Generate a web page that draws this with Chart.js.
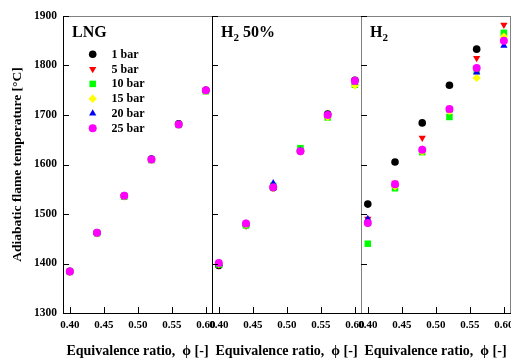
<!DOCTYPE html>
<html>
<head>
<meta charset="utf-8">
<script src="https://cdn.jsdelivr.net/npm/chart.js@4.4.1/dist/chart.umd.min.js"></script>
<style>
  html, body { margin: 0; padding: 0; background: #fff; overflow: hidden; width: 511px; height: 363px; }
  #wrap { position: relative; width: 511px; height: 363px; overflow: hidden; }
  canvas { position: absolute; left: 0; top: 0; }
</style>
</head>
<body>
<div id="wrap">
  <canvas id="panelLNG" width="530" height="363"></canvas>
  <canvas id="panelH2mix" width="530" height="363"></canvas>
  <canvas id="panelH2" width="530" height="363"></canvas>
</div>
<script>
// Equivalence ratio values and axis ticks
const phi = [0.40, 0.44, 0.48, 0.52, 0.56, 0.60];
const xTicks = [0.40, 0.45, 0.50, 0.55, 0.60];
const yTicks = [1300, 1400, 1500, 1600, 1700, 1800, 1900];
const pressures = ['1 bar', '5 bar', '10 bar', '15 bar', '20 bar', '25 bar'];

// Adiabatic flame temperature [°C] — LNG
const lng1bar  = [1384, 1462, 1537, 1611, 1682, 1750];
const lng5bar  = [1383, 1461, 1536, 1610, 1681, 1749];
const lng10bar = [1383, 1461, 1535, 1609, 1680, 1748];
const lng15bar = [1384, 1462, 1536, 1610, 1681, 1749];
const lng20bar = [1384, 1462, 1537, 1611, 1682, 1750];
const lng25bar = [1384, 1462, 1537, 1610, 1681, 1750];

// H2 50 %
const mix1bar  = [1396, 1479, 1553, 1628, 1702, 1770];
const mix5bar  = [1397, 1476, 1553, 1628, 1699, 1764];
const mix10bar = [1398, 1477, 1557, 1633, 1695, 1761];
const mix15bar = [1400, 1479, 1553, 1626, 1696, 1760];
const mix20bar = [1400, 1481, 1562, 1628, 1699, 1766];
const mix25bar = [1401, 1481, 1554, 1627, 1700, 1769];

// H2
const h21bar  = [1520, 1605, 1684, 1760, 1833, null];
const h25bar  = [1490, 1563, 1654, 1712, 1815, 1882];
const h210bar = [1440, 1552, 1625, 1696, 1789, 1866];
const h215bar = [1481, 1556, 1626, 1708, 1775, 1858];
const h220bar = [1490, 1560, 1630, 1710, 1786, 1840];
const h225bar = [1482, 1560, 1630, 1712, 1795, 1850];

const markers = [
  { color: '#000000', style: 'circle',   rotation: 0,   radius: 3.8 },
  { color: '#ff0000', style: 'triangle', rotation: 180, radius: 4.2 },
  { color: '#00ff00', style: 'rect',     rotation: 0,   radius: 4.6 },
  { color: '#ffff00', style: 'rectRot',  rotation: 0,   radius: 4.2 },
  { color: '#0000ff', style: 'triangle', rotation: 0,   radius: 4.2 },
  { color: '#ff00ff', style: 'circle',   rotation: 0,   radius: 4.0 }
];

const SERIF = '"Liberation Serif", "Times New Roman", serif';

function buildDatasets(seriesList) {
  return seriesList.map((vals, i) => ({
    label: pressures[i],
    data: phi.map((p, k) => ({ x: p, y: vals[k] })),
    backgroundColor: markers[i].color,
    borderColor: markers[i].color,
    borderWidth: 0,
    pointStyle: markers[i].style,
    pointRotation: markers[i].rotation,
    pointRadius: markers[i].radius,
    pointBorderWidth: 0,
    order: seriesList.length - i
  }));
}

// Box edges plus inward tick marks on the left and bottom of each panel
const frameAndTicks = {
  id: 'frameAndTicks',
  afterDraw(chart, args, opts) {
    const { ctx, chartArea: a, scales: { x, y } } = chart;
    ctx.save();
    ctx.lineWidth = 1;
    ctx.strokeStyle = '#808080';
    ctx.beginPath();
    ctx.moveTo(a.left, a.top + 0.5); ctx.lineTo(a.right + 1, a.top + 0.5);
    ctx.stroke();
    ctx.strokeStyle = opts.rightColor;
    ctx.beginPath();
    ctx.moveTo(a.right + 0.5, a.top); ctx.lineTo(a.right + 0.5, a.bottom);
    ctx.stroke();
    ctx.strokeStyle = opts.leftColor;
    ctx.beginPath();
    ctx.moveTo(a.left + 0.5, a.top); ctx.lineTo(a.left + 0.5, a.bottom + 1);
    ctx.stroke();
    ctx.strokeStyle = '#000000';
    ctx.beginPath();
    ctx.moveTo(a.left, a.bottom + 0.5); ctx.lineTo(a.right + 1, a.bottom + 0.5);
    ctx.stroke();
    // inward ticks
    ctx.strokeStyle = '#000000';
    ctx.beginPath();
    y.ticks.forEach(t => {
      const py = Math.round(y.getPixelForValue(t.value)) + 0.5;
      ctx.moveTo(a.left, py); ctx.lineTo(a.left + 6, py);
    });
    x.ticks.forEach(t => {
      const px = Math.round(x.getPixelForValue(t.value)) + 0.5;
      ctx.moveTo(px, a.bottom); ctx.lineTo(px, a.bottom - 6);
    });
    ctx.stroke();
    ctx.restore();
  }
};

// Panel heading (with optional subscript) and optional marker key
const panelText = {
  id: 'panelText',
  afterDraw(chart, args, opts) {
    const { ctx, chartArea: a } = chart;
    ctx.save();
    ctx.fillStyle = '#000';
    ctx.textBaseline = 'alphabetic';
    let cx = a.left + 9;
    const by = a.top + 21;
    opts.title.forEach(part => {
      if (part.sub) {
        ctx.font = 'bold 11px ' + SERIF;
        ctx.fillText(part.text, cx, by + 4);
      } else {
        ctx.font = 'bold 16px ' + SERIF;
        ctx.fillText(part.text, cx, by);
      }
      cx += ctx.measureText(part.text).width;
    });
    if (opts.legend) {
      chart.data.datasets.forEach((ds, i) => {
        const my = a.top + 38.3 + i * 14.8;
        const mx = a.left + 29.7;
        ctx.fillStyle = ds.backgroundColor;
        Chart.helpers.drawPoint(ctx, {
          pointStyle: ds.pointStyle, rotation: ds.pointRotation,
          radius: ds.pointRadius, borderWidth: 0
        }, mx, my);
        ctx.fillStyle = '#000';
        ctx.font = 'bold 12px ' + SERIF;
        ctx.textBaseline = 'middle';
        ctx.fillText(ds.label, a.left + 48.5, my + 0.5);
      });
    }
    ctx.restore();
  }
};

function makePanel(id, seriesList, cfg) {
  return new Chart(document.getElementById(id), {
    type: 'scatter',
    data: { datasets: buildDatasets(seriesList) },
    options: {
      responsive: false,
      animation: false,
      devicePixelRatio: 1,
      layout: { padding: { left: cfg.padLeft, right: cfg.padRight, top: 16, bottom: 0 } },
      plugins: {
        legend: { display: false },
        tooltip: { enabled: false },
        frameAndTicks: { leftColor: cfg.leftColor, rightColor: cfg.rightColor },
        panelText: { title: cfg.title, legend: cfg.legend }
      },
      scales: {
        x: {
          type: 'linear',
          min: 0.39, max: 0.609,
          afterBuildTicks: s => { s.ticks = xTicks.map(v => ({ value: v })); },
          afterFit: s => { s.height = 50; },
          grid: { display: false, drawTicks: false },
          border: { display: false },
          ticks: {
            autoSkip: false, maxRotation: 0, padding: 6,
            color: '#000',
            font: { family: SERIF, weight: 'bold', size: 11 },
            callback: v => Number(v).toFixed(2)
          },
          title: {
            display: true,
            text: 'Equivalence ratio,  \u03D5 [-]',
            color: '#000',
            font: { family: SERIF, weight: 'bold', size: 14 },
            padding: { top: 0, bottom: 3 }
          }
        },
        y: {
          type: 'linear',
          display: cfg.showY,
          min: 1300, max: 1900,
          afterBuildTicks: s => { s.ticks = yTicks.map(v => ({ value: v })); },
          afterFit: s => { s.width = cfg.showY ? 63 : 0; },
          grid: { display: false, drawTicks: false },
          border: { display: false },
          ticks: {
            padding: 6,
            color: '#000',
            font: { family: SERIF, weight: 'bold', size: 11.5 },
            callback: v => String(v)
          },
          title: {
            display: cfg.showY,
            text: 'Adiabatic flame temperature [°C]',
            color: '#000',
            font: { family: SERIF, weight: 'bold', size: 13.5 },
            padding: { top: 9, bottom: 0 }
          }
        }
      }
    },
    plugins: [frameAndTicks, panelText]
  });
}

makePanel('panelLNG',
  [lng1bar, lng5bar, lng10bar, lng15bar, lng20bar, lng25bar],
  { padLeft: 0, padRight: 318, showY: true, leftColor: '#000', rightColor: '#000',
    title: [{ text: 'LNG' }], legend: true });

makePanel('panelH2mix',
  [mix1bar, mix5bar, mix10bar, mix15bar, mix20bar, mix25bar],
  { padLeft: 212, padRight: 169, showY: false, leftColor: '#000', rightColor: '#808080',
    title: [{ text: 'H' }, { text: '2', sub: true }, { text: ' 50%' }], legend: false });

makePanel('panelH2',
  [h21bar, h25bar, h210bar, h215bar, h220bar, h225bar],
  { padLeft: 361, padRight: 20, showY: false, leftColor: '#808080', rightColor: '#808080',
    title: [{ text: 'H' }, { text: '2', sub: true }], legend: false });
</script>
</body>
</html>
